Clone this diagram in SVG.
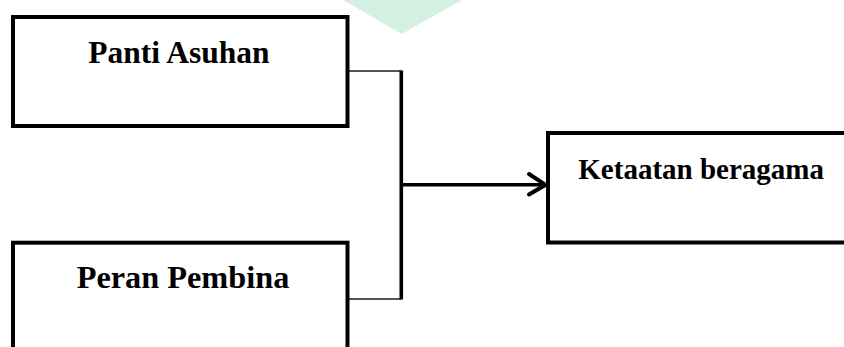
<svg xmlns="http://www.w3.org/2000/svg" width="844" height="347" viewBox="0 0 844 347">
  <style>
    .box { fill: #ffffff; stroke: #000000; stroke-width: 4; }
    .lbl { font-family: "Liberation Serif", "Times New Roman", serif; font-weight: bold; fill: #000000; }
    .thin { fill: none; stroke: #1a1a1a; stroke-width: 1.3; }
    .thick { fill: none; stroke: #000000; stroke-width: 3.6; }
  </style>
  <rect x="0" y="0" width="844" height="347" fill="#ffffff"/>
  <polygon id="watermark" points="343,0 462,0 401.7,34" fill="#d6efe3"/>
  <g id="connectors">
    <polyline class="thin" points="348,71 401.3,71"/>
    <polyline class="thin" points="348,299 401.3,299"/>
    <line class="thick" x1="401.3" y1="70.5" x2="401.3" y2="299.5"/>
    <line class="thick" x1="401.3" y1="184.8" x2="544" y2="184.8" stroke-width="4"/>
    <polyline fill="none" stroke="#000" stroke-width="4" stroke-linecap="round" stroke-linejoin="miter" points="529,174 545.5,184.8 529,194.5"/>
  </g>
  <g id="node-panti-asuhan">
    <rect class="box" x="13" y="17" width="334.5" height="109"/>
    <text class="lbl" x="88.3" y="63.3" font-size="31.5">Panti Asuhan</text>
  </g>
  <g id="node-peran-pembina">
    <rect class="box" x="13" y="242.7" width="334.5" height="120"/>
    <text class="lbl" x="76.7" y="287.7" font-size="32.3">Peran Pembina</text>
  </g>
  <g id="node-ketaatan-beragama">
    <rect class="box" x="548" y="133" width="310" height="109.5"/>
    <text class="lbl" x="578.3" y="179" font-size="29">Ketaatan beragama</text>
  </g>
</svg>
